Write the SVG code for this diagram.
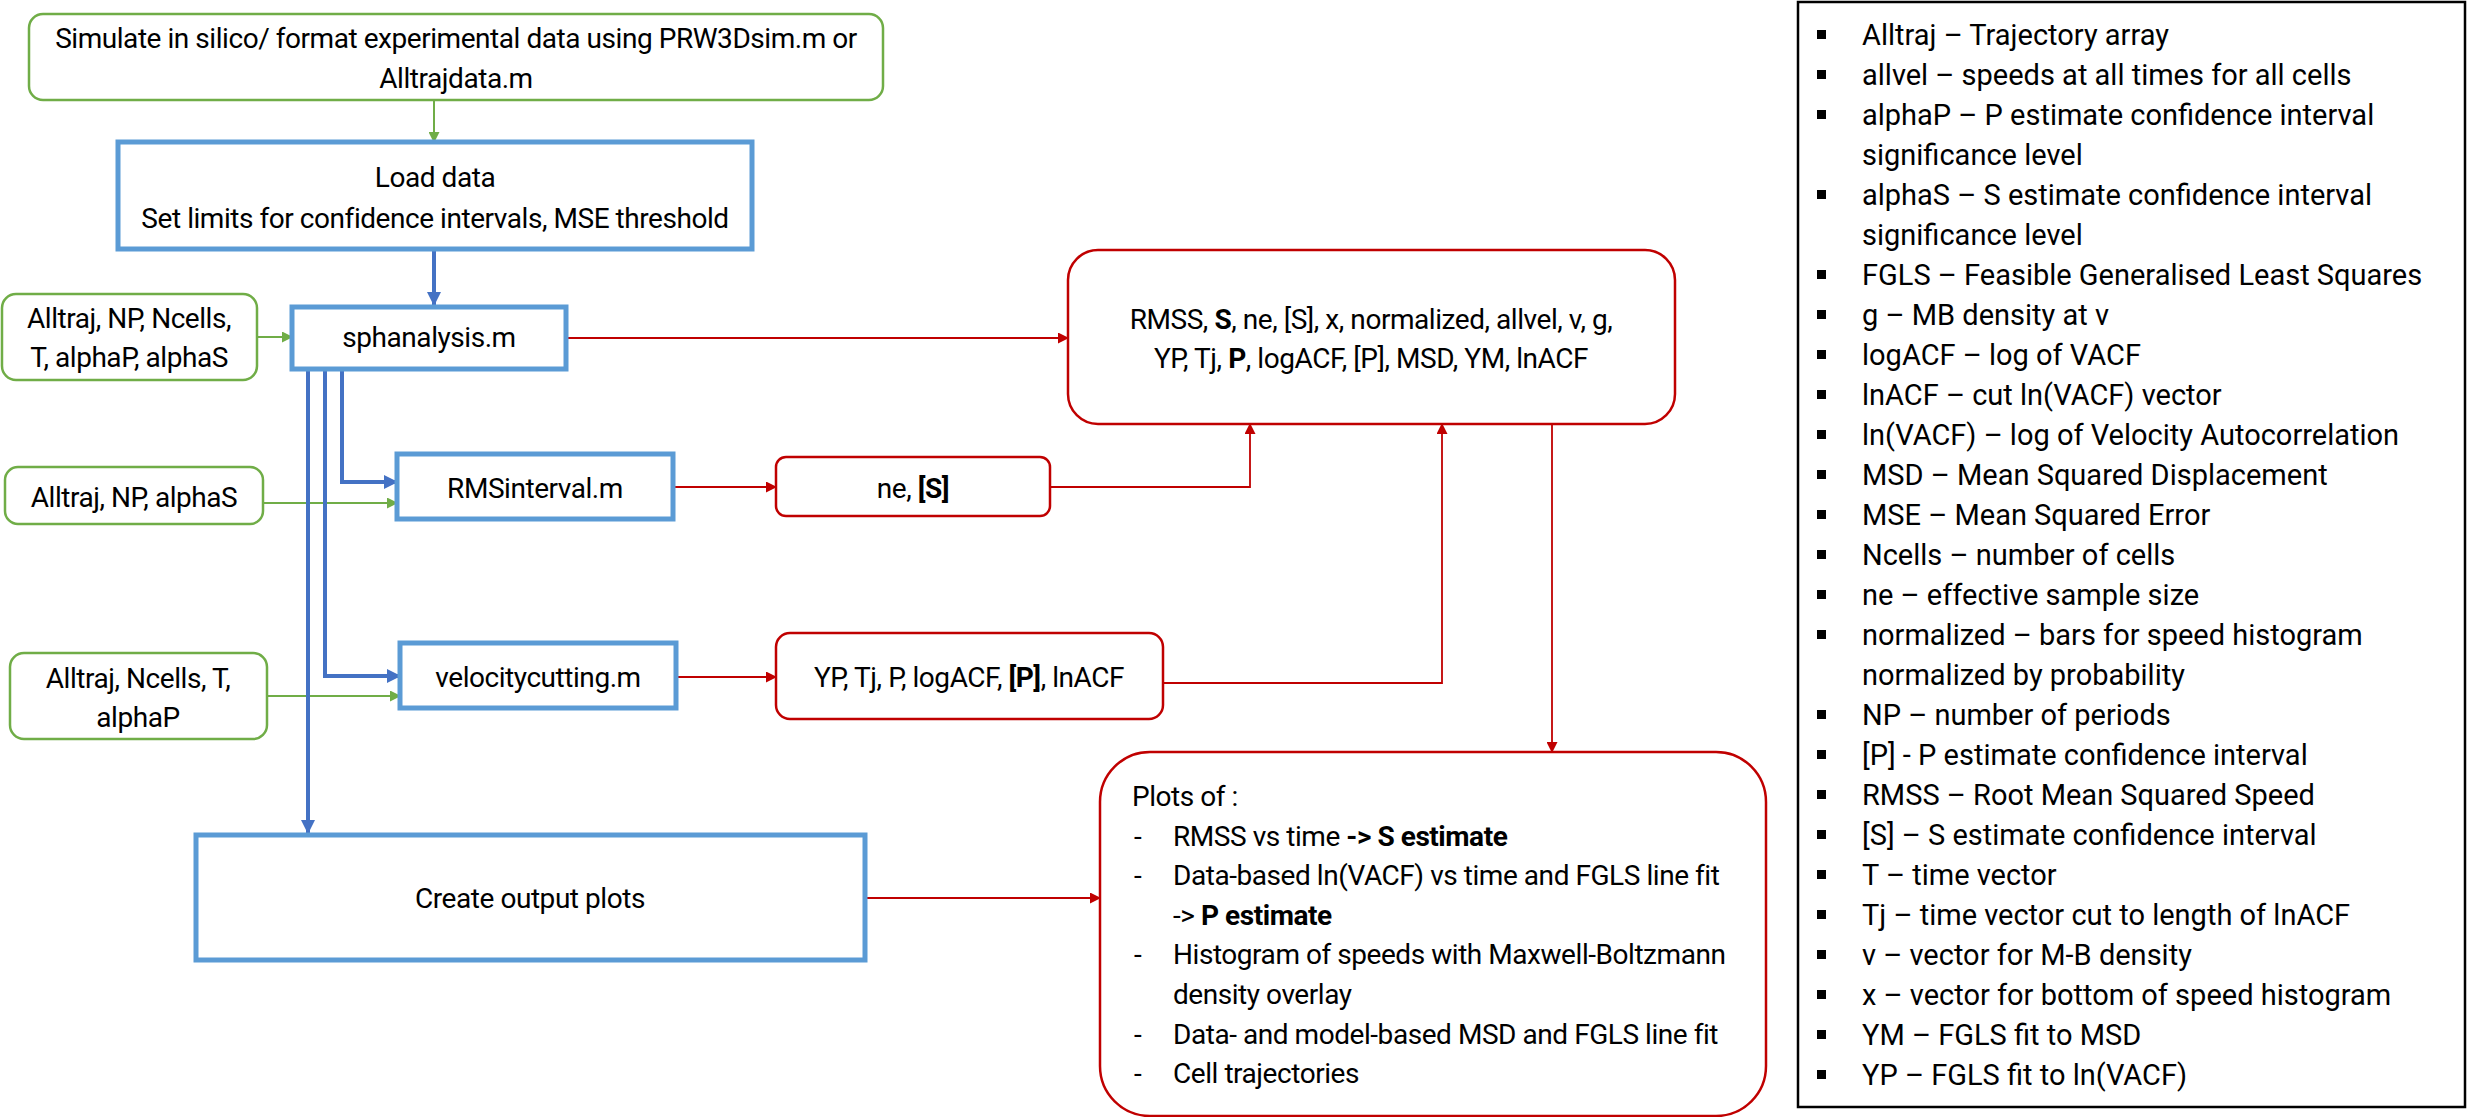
<svg xmlns="http://www.w3.org/2000/svg" width="2468" height="1117" viewBox="0 0 2468 1117">
<style>
.t{font-family:Roboto,"Liberation Sans",Arial,sans-serif;font-size:28px;fill:#000;letter-spacing:-0.45px}
.lg{font-family:Roboto,"Liberation Sans",Arial,sans-serif;font-size:29px;fill:#000}
.c{text-anchor:middle}
.b{font-weight:bold}
.gbox{fill:#fff;stroke:#70AD47;stroke-width:2.5}
.bbox{fill:#fff;stroke:#5B9BD5;stroke-width:5}
.rbox{fill:#fff;stroke:#C00000;stroke-width:2.5}
.gl{fill:none;stroke:#70AD47;stroke-width:2;marker-end:url(#ag)}
.bl{fill:none;stroke:#4472C4;stroke-width:4;marker-end:url(#ab)}
.rl{fill:none;stroke:#C00000;stroke-width:1.8;marker-end:url(#ar)}
.leg{fill:#fff;stroke:#000;stroke-width:2.5}
</style>
<defs>
<marker id="ab" markerUnits="userSpaceOnUse" markerWidth="14" markerHeight="14" viewBox="0 0 14 14" refX="13" refY="7" orient="auto"><path d="M0,0 L14,7 L0,14 z" fill="#4472C4"/></marker>
<marker id="ag" markerUnits="userSpaceOnUse" markerWidth="11" markerHeight="11" viewBox="0 0 11 11" refX="10" refY="5.5" orient="auto"><path d="M0,0 L11,5.5 L0,11 z" fill="#70AD47"/></marker>
<marker id="ar" markerUnits="userSpaceOnUse" markerWidth="11" markerHeight="11" viewBox="0 0 11 11" refX="10" refY="5.5" orient="auto"><path d="M0,0 L11,5.5 L0,11 z" fill="#C00000"/></marker>
</defs>
<rect width="2468" height="1117" fill="#fff"/>

<g id="connectors">
<path class="gl" d="M434,100 V142"/>
<path class="bl" d="M434,249 V305"/>
<path class="gl" d="M257,337 H292"/>
<path class="gl" d="M263,503 H397"/>
<path class="gl" d="M267,696 H400"/>
<path class="bl" d="M342,370 V482 H397"/>
<path class="bl" d="M325,370 V676 H400"/>
<path class="bl" d="M308,370 V833"/>
<path class="rl" d="M566,338 H1068"/>
<path class="rl" d="M673,487 H776"/>
<path class="rl" d="M676,677 H776"/>
<path class="rl" d="M1050,487 H1250 V424"/>
<path class="rl" d="M1163,683 H1442 V424"/>
<path class="rl" d="M1552,424 V752"/>
<path class="rl" d="M865,898 H1100"/>
</g>

<g id="n-simulate">
<rect class="gbox" x="29" y="14" width="854" height="86" rx="14"/>
<text class="t c" x="456" y="48">Simulate in silico/ format experimental data using PRW3Dsim.m or</text>
<text class="t c" x="456" y="88">Alltrajdata.m</text>
</g>

<g id="n-load">
<rect class="bbox" x="118" y="142" width="634" height="107"/>
<text class="t c" x="435" y="187">Load data</text>
<text class="t c" x="435" y="228">Set limits for confidence intervals, MSE threshold</text>
</g>

<g id="n-in1">
<rect class="gbox" x="2" y="294" width="255" height="86" rx="14"/>
<text class="t c" x="129" y="328">Alltraj, NP, Ncells,</text>
<text class="t c" x="129" y="367">T, alphaP, alphaS</text>
</g>

<g id="n-sph">
<rect class="bbox" x="292" y="307" width="274" height="62"/>
<text class="t c" x="429" y="347">sphanalysis.m</text>
</g>

<g id="n-in2">
<rect class="gbox" x="5" y="467" width="258" height="57" rx="13"/>
<text class="t c" x="134" y="507">Alltraj, NP, alphaS</text>
</g>

<g id="n-rms">
<rect class="bbox" x="397" y="454" width="276" height="65"/>
<text class="t c" x="535" y="498">RMSinterval.m</text>
</g>

<g id="n-in3">
<rect class="gbox" x="10" y="653" width="257" height="86" rx="14"/>
<text class="t c" x="138" y="688">Alltraj, Ncells, T,</text>
<text class="t c" x="138" y="727">alphaP</text>
</g>

<g id="n-vel">
<rect class="bbox" x="400" y="643" width="276" height="65"/>
<text class="t c" x="538" y="687">velocitycutting.m</text>
</g>

<g id="n-plots-create">
<rect class="bbox" x="196" y="835" width="669" height="125"/>
<text class="t c" x="530" y="908">Create output plots</text>
</g>

<g id="n-ne">
<rect class="rbox" x="776" y="457" width="274" height="59" rx="10"/>
<text class="t c" x="913" y="498">ne, <tspan class="b">[S]</tspan></text>
</g>

<g id="n-yp">
<rect class="rbox" x="776" y="633" width="387" height="86" rx="14"/>
<text class="t c" x="969" y="687">YP, Tj, P, logACF, <tspan class="b">[P]</tspan>, lnACF</text>
</g>

<g id="n-outputs">
<rect class="rbox" x="1068" y="250" width="607" height="174" rx="30"/>
<text class="t c" x="1371" y="329">RMSS, <tspan class="b">S</tspan>, ne, [S], x, normalized, allvel, v, g,</text>
<text class="t c" x="1371" y="368">YP, Tj, <tspan class="b">P</tspan>, logACF, [P], MSD, YM, lnACF</text>
</g>

<g id="n-plots">
<rect class="rbox" x="1100" y="752" width="666" height="364" rx="50"/>
<text class="t" x="1132" y="806">Plots of :</text>
<text class="t" x="1134" y="846">-</text>
<text class="t" x="1173" y="846">RMSS vs time <tspan class="b">-&gt; S estimate</tspan></text>
<text class="t" x="1134" y="885">-</text>
<text class="t" x="1173" y="885">Data-based ln(VACF) vs time and FGLS line fit</text>
<text class="t" x="1173" y="925">-&gt; <tspan class="b">P estimate</tspan></text>
<text class="t" x="1134" y="964">-</text>
<text class="t" x="1173" y="964">Histogram of speeds with Maxwell-Boltzmann</text>
<text class="t" x="1173" y="1004">density overlay</text>
<text class="t" x="1134" y="1044">-</text>
<text class="t" x="1173" y="1044">Data- and model-based MSD and FGLS line fit</text>
<text class="t" x="1134" y="1083">-</text>
<text class="t" x="1173" y="1083">Cell trajectories</text>
</g>

<g id="n-legend">
<rect class="leg" x="1798" y="2" width="667" height="1105"/>
<g fill="#000">
<rect x="1817" y="30" width="9" height="9"/>
<rect x="1817" y="70" width="9" height="9"/>
<rect x="1817" y="110" width="9" height="9"/>
<rect x="1817" y="190" width="9" height="9"/>
<rect x="1817" y="270" width="9" height="9"/>
<rect x="1817" y="310" width="9" height="9"/>
<rect x="1817" y="350" width="9" height="9"/>
<rect x="1817" y="390" width="9" height="9"/>
<rect x="1817" y="430" width="9" height="9"/>
<rect x="1817" y="470" width="9" height="9"/>
<rect x="1817" y="510" width="9" height="9"/>
<rect x="1817" y="550" width="9" height="9"/>
<rect x="1817" y="590" width="9" height="9"/>
<rect x="1817" y="630" width="9" height="9"/>
<rect x="1817" y="710" width="9" height="9"/>
<rect x="1817" y="750" width="9" height="9"/>
<rect x="1817" y="790" width="9" height="9"/>
<rect x="1817" y="830" width="9" height="9"/>
<rect x="1817" y="870" width="9" height="9"/>
<rect x="1817" y="910" width="9" height="9"/>
<rect x="1817" y="950" width="9" height="9"/>
<rect x="1817" y="990" width="9" height="9"/>
<rect x="1817" y="1030" width="9" height="9"/>
<rect x="1817" y="1070" width="9" height="9"/>
</g>
<text class="lg" x="1862" y="45">Alltraj – Trajectory array</text>
<text class="lg" x="1862" y="85">allvel – speeds at all times for all cells</text>
<text class="lg" x="1862" y="125">alphaP – P estimate confidence interval</text>
<text class="lg" x="1862" y="165">significance level</text>
<text class="lg" x="1862" y="205">alphaS – S estimate confidence interval</text>
<text class="lg" x="1862" y="245">significance level</text>
<text class="lg" x="1862" y="285">FGLS – Feasible Generalised Least Squares</text>
<text class="lg" x="1862" y="325">g – MB density at v</text>
<text class="lg" x="1862" y="365">logACF – log of VACF</text>
<text class="lg" x="1862" y="405">lnACF – cut ln(VACF) vector</text>
<text class="lg" x="1862" y="445">ln(VACF) – log of Velocity Autocorrelation</text>
<text class="lg" x="1862" y="485">MSD – Mean Squared Displacement</text>
<text class="lg" x="1862" y="525">MSE – Mean Squared Error</text>
<text class="lg" x="1862" y="565">Ncells – number of cells</text>
<text class="lg" x="1862" y="605">ne – effective sample size</text>
<text class="lg" x="1862" y="645">normalized – bars for speed histogram</text>
<text class="lg" x="1862" y="685">normalized by probability</text>
<text class="lg" x="1862" y="725">NP – number of periods</text>
<text class="lg" x="1862" y="765">[P] - P estimate confidence interval</text>
<text class="lg" x="1862" y="805">RMSS – Root Mean Squared Speed</text>
<text class="lg" x="1862" y="845">[S] – S estimate confidence interval</text>
<text class="lg" x="1862" y="885">T – time vector</text>
<text class="lg" x="1862" y="925">Tj – time vector cut to length of lnACF</text>
<text class="lg" x="1862" y="965">v – vector for M-B density</text>
<text class="lg" x="1862" y="1005">x – vector for bottom of speed histogram</text>
<text class="lg" x="1862" y="1045">YM – FGLS fit to MSD</text>
<text class="lg" x="1862" y="1085">YP – FGLS fit to ln(VACF)</text>
</g>
</svg>
